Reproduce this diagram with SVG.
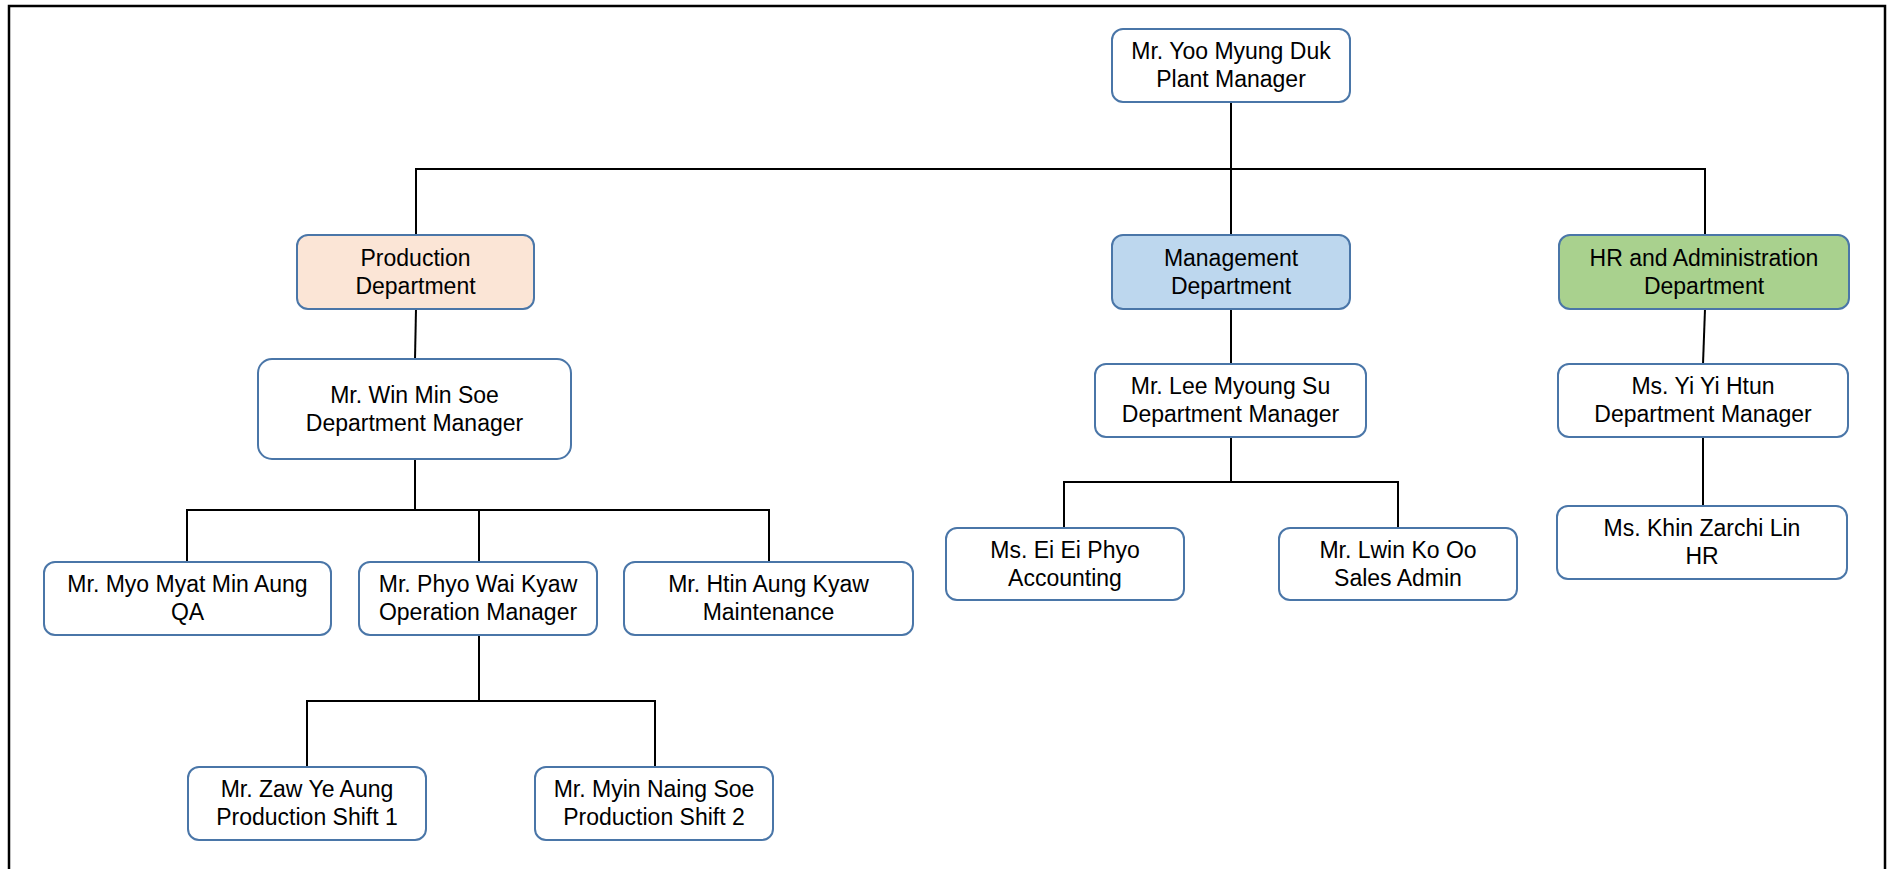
<svg xmlns="http://www.w3.org/2000/svg" width="1888" height="869" viewBox="0 0 1888 869">
  <style>
    .box { fill: #ffffff; stroke: #4a76a8; stroke-width: 2; }
    .prod { fill: #fbe5d6; }
    .mgmt { fill: #bdd7ee; }
    .hr { fill: #a9d18e; }
    .lbl { font-family: "Liberation Sans", Arial, sans-serif; font-size: 23px; fill: #000; text-anchor: middle; }
    .wire { fill: none; stroke: #000; stroke-width: 2; }
  </style>
  <rect x="0" y="0" width="1888" height="869" fill="#ffffff"/>
  <!-- frame -->
  <rect x="9" y="6" width="1876" height="880" fill="none" stroke="#000" stroke-width="2.5"/>

  <!-- connectors -->
  <g id="connectors" class="wire">
    <path d="M1231 102 V235"/>
    <path d="M416 235 V169 H1705 V235"/>
    <path d="M416 309 L415 359"/>
    <path d="M1231 309 V364"/>
    <path d="M1705 309 L1703 364"/>
    <path d="M415 459 V510"/>
    <path d="M187 562 V510 H769 V562"/>
    <path d="M479 510 V562"/>
    <path d="M479 635 V701"/>
    <path d="M307 767 V701 H655 V767"/>
    <path d="M1231 437 V482"/>
    <path d="M1064 528 V482 H1398 V528"/>
    <path d="M1703 437 V506"/>
  </g>

  <g id="plant-manager">
    <rect class="box" x="1112" y="29" width="238" height="73" rx="11"/>
    <text class="lbl" x="1231" y="59">Mr. Yoo Myung Duk</text>
    <text class="lbl" x="1231" y="87">Plant Manager</text>
  </g>
  <g id="production-dept">
    <rect class="box prod" x="297" y="235" width="237" height="74" rx="11"/>
    <text class="lbl" x="415.5" y="266">Production</text>
    <text class="lbl" x="415.5" y="294">Department</text>
  </g>
  <g id="management-dept">
    <rect class="box mgmt" x="1112" y="235" width="238" height="74" rx="11"/>
    <text class="lbl" x="1231" y="266">Management</text>
    <text class="lbl" x="1231" y="294">Department</text>
  </g>
  <g id="hr-dept">
    <rect class="box hr" x="1559" y="235" width="290" height="74" rx="11"/>
    <text class="lbl" x="1704" y="266">HR and Administration</text>
    <text class="lbl" x="1704" y="294">Department</text>
  </g>
  <g id="win-min-soe">
    <rect class="box" x="258" y="359" width="313" height="100" rx="14"/>
    <text class="lbl" x="414.5" y="403">Mr. Win Min Soe</text>
    <text class="lbl" x="414.5" y="431">Department Manager</text>
  </g>
  <g id="lee-myoung-su">
    <rect class="box" x="1095" y="364" width="271" height="73" rx="11"/>
    <text class="lbl" x="1230.5" y="394">Mr. Lee Myoung Su</text>
    <text class="lbl" x="1230.5" y="422">Department Manager</text>
  </g>
  <g id="yi-yi-htun">
    <rect class="box" x="1558" y="364" width="290" height="73" rx="11"/>
    <text class="lbl" x="1703" y="394">Ms. Yi Yi Htun</text>
    <text class="lbl" x="1703" y="422">Department Manager</text>
  </g>
  <g id="myo-myat-min-aung">
    <rect class="box" x="44" y="562" width="287" height="73" rx="11"/>
    <text class="lbl" x="187.5" y="592">Mr. Myo Myat Min Aung</text>
    <text class="lbl" x="187.5" y="620">QA</text>
  </g>
  <g id="phyo-wai-kyaw">
    <rect class="box" x="359" y="562" width="238" height="73" rx="11"/>
    <text class="lbl" x="478" y="592">Mr. Phyo Wai Kyaw</text>
    <text class="lbl" x="478" y="620">Operation Manager</text>
  </g>
  <g id="htin-aung-kyaw">
    <rect class="box" x="624" y="562" width="289" height="73" rx="11"/>
    <text class="lbl" x="768.5" y="592">Mr. Htin Aung Kyaw</text>
    <text class="lbl" x="768.5" y="620">Maintenance</text>
  </g>
  <g id="zaw-ye-aung">
    <rect class="box" x="188" y="767" width="238" height="73" rx="11"/>
    <text class="lbl" x="307" y="797">Mr. Zaw Ye Aung</text>
    <text class="lbl" x="307" y="825">Production Shift 1</text>
  </g>
  <g id="myin-naing-soe">
    <rect class="box" x="535" y="767" width="238" height="73" rx="11"/>
    <text class="lbl" x="654" y="797">Mr. Myin Naing Soe</text>
    <text class="lbl" x="654" y="825">Production Shift 2</text>
  </g>
  <g id="ei-ei-phyo">
    <rect class="box" x="946" y="528" width="238" height="72" rx="11"/>
    <text class="lbl" x="1065" y="558">Ms. Ei Ei Phyo</text>
    <text class="lbl" x="1065" y="586">Accounting</text>
  </g>
  <g id="lwin-ko-oo">
    <rect class="box" x="1279" y="528" width="238" height="72" rx="11"/>
    <text class="lbl" x="1398" y="558">Mr. Lwin Ko Oo</text>
    <text class="lbl" x="1398" y="586">Sales Admin</text>
  </g>
  <g id="khin-zarchi-lin">
    <rect class="box" x="1557" y="506" width="290" height="73" rx="11"/>
    <text class="lbl" x="1702" y="536">Ms. Khin Zarchi Lin</text>
    <text class="lbl" x="1702" y="564">HR</text>
  </g>
</svg>
